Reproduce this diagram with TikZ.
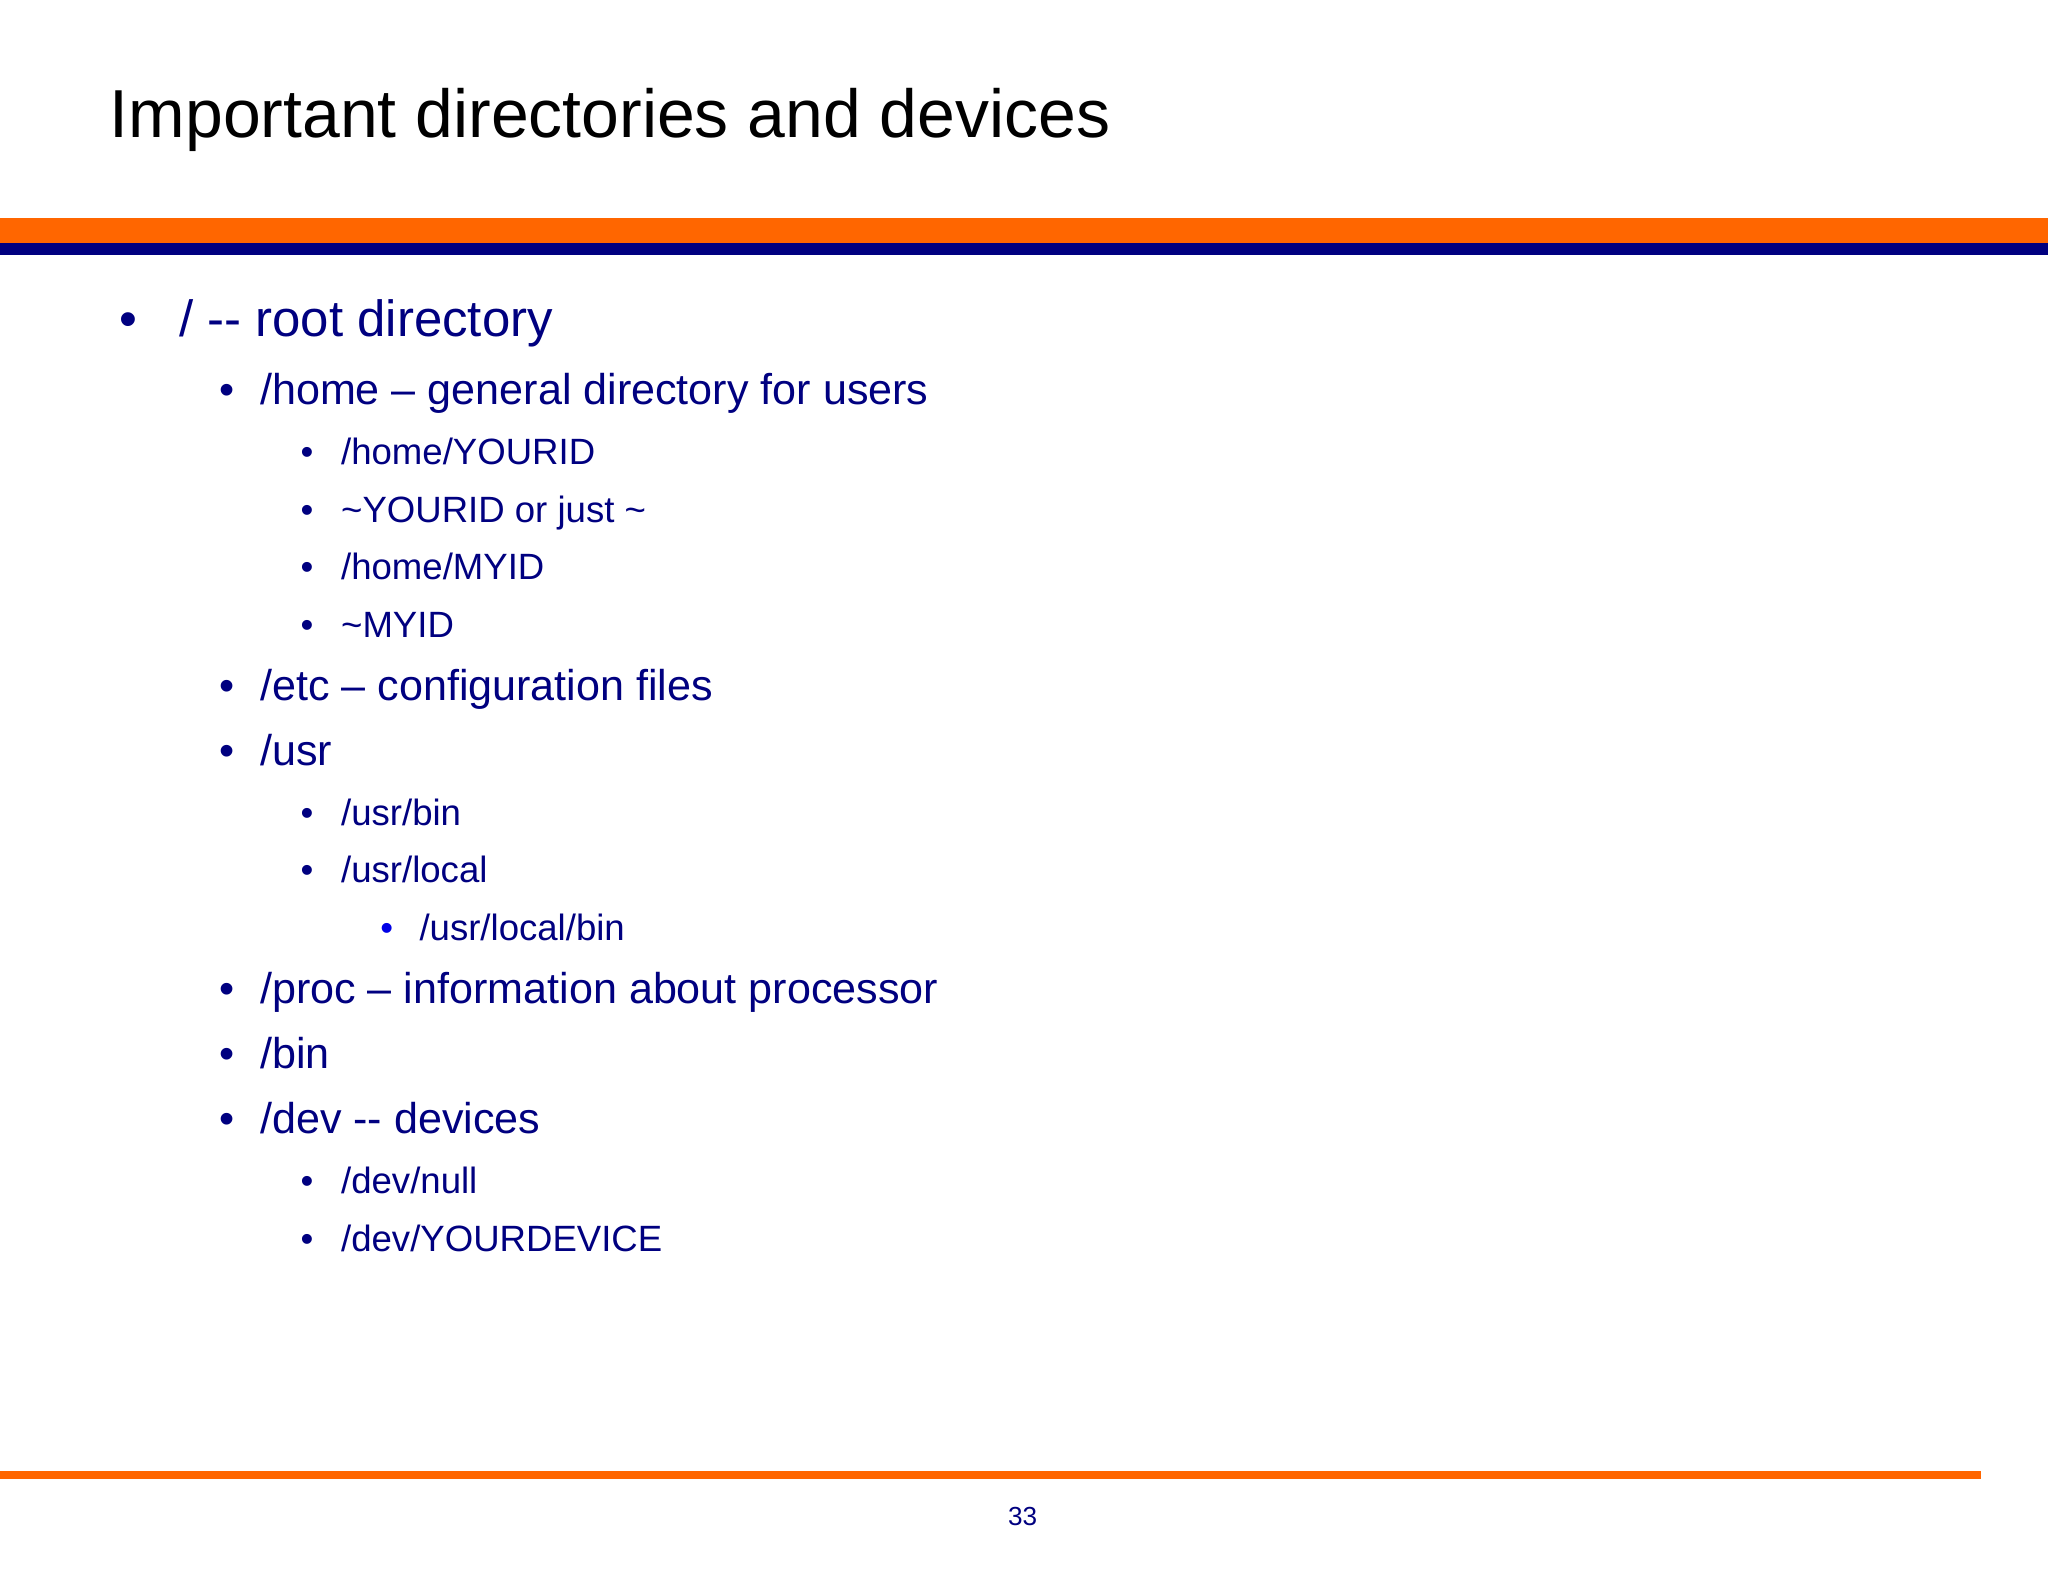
\documentclass[tikz,border=0pt]{standalone}
\usepackage{fontspec}
\setmainfont{Liberation Sans}
\definecolor{navy}{RGB}{0,0,128}
\definecolor{orng}{RGB}{255,102,0}
\definecolor{bblue}{RGB}{0,0,230}
\begin{document}
\begin{tikzpicture}[x=1pt,y=-1pt,
  t/.style={anchor=base west,inner sep=0,text=navy},
  la/.style={t,font=\fontsize{39}{44}\selectfont},
  lb/.style={t,font=\fontsize{33}{38}\selectfont},
  lc/.style={t,font=\fontsize{28}{32}\selectfont},
  ld/.style={t,font=\fontsize{28}{32}\selectfont}]
\useasboundingbox (0,0) rectangle (1568,1211);
\fill[white] (0,0) rectangle (1568,1211);
\node[anchor=base west,inner sep=0,font=\fontsize{52}{60}\selectfont] (title) at (84,105) {Important directories and devices};
\fill[orng] (0,167) rectangle (1568,186);
\fill[navy] (0,186) rectangle (1568,195);
\fill[orng] (0,1126) rectangle (1517,1132);
\node[la] (b1) at (91,258) {•}; \node[la] (a1) at (137,258) {/ -{}- root directory};
\foreach \y/\s [count=\i] in {310/{/home – general directory for users},536/{/etc – configuration files},586/{/usr},768/{/proc – information about processor},818/{/bin},868/{/dev -{}- devices}}{
  \node[lb] (bb\i) at (168,\y) {•}; \node[lb] (tb\i) at (199,\y) {\s};}
\foreach \y/\s [count=\i] in {356/{/home/YOURID},400/{\textasciitilde YOURID or just \textasciitilde},444/{/home/MYID},488/{\textasciitilde MYID},632/{/usr/bin},676/{/usr/local},914/{/dev/null},958/{/dev/YOURDEVICE}}{
  \node[lc] (bc\i) at (230,\y) {•}; \node[lc] (tc\i) at (261,\y) {\s};}
\node[ld,text=bblue] (bd1) at (291,720) {•}; \node[ld] (td1) at (321,720) {/usr/local/bin};
\node[t,anchor=base,font=\fontsize{20}{24}\selectfont] (pg) at (783,1168) {33};
\end{tikzpicture}
\end{document}
